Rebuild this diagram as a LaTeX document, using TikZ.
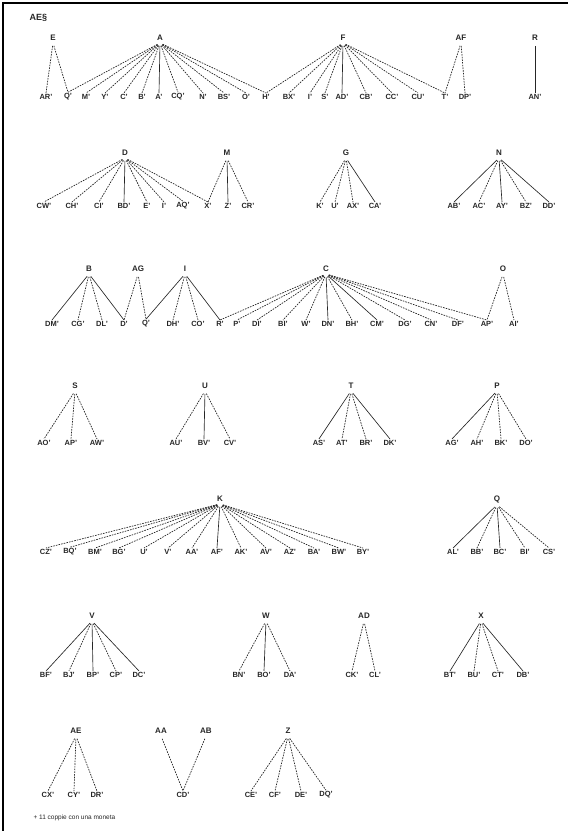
\documentclass[tikz,border=0pt]{standalone}
\usepackage{fontspec}
\setmainfont{Liberation Sans}
\newcommand\fanout[3]{\foreach \i/\s in {#3} {\draw[\s] (#1.south) -- (#2\i.north);}}
\begin{document}
\begin{tikzpicture}[x=1pt,y=-1pt,
  lbl/.style={font=\fontsize{7.5}{9}\selectfont\bfseries, inner sep=1.2pt, text=black!85},
  par/.style={font=\fontsize{8}{9}\selectfont\bfseries, inner sep=2pt, text=black!85},
  dashl/.style={draw=black!85, line width=0.7pt, dash pattern=on 1.6pt off 1.1pt, shorten <=3pt},
  solidl/.style={draw=black!85, line width=0.65pt, shorten <=3pt}]
\useasboundingbox (0,0) rectangle (568,831);
\draw[line width=1.2pt] (3,831) -- (3,3) -- (568,3);
\node[anchor=west, font=\fontsize{9}{10}\selectfont\bfseries, text=black!85] (logo) at (26,18) {AE§};

% ---------- row 1 ----------
\foreach \x/\t [count=\i] in {46/AR',68/Q',86/M',105/Y',124/C',142/B',159/A',178/CQ',203/N',224/BS',246/O',266/H',289/BX',310/I',325/S',342/AD',366/CB',392/CC',418/CU',445/T',465/DP',535/AN'}
  \node[lbl] (r1c\i) at (\x,97) {\t};
\node[par] (pE) at (53,38) {E};
\node[par] (pA) at (160,38) {A};
\node[par] (pF) at (343,38) {F};
\node[par] (pAF) at (461,38) {AF};
\node[par] (pR) at (535,38) {R};
\fanout{pE}{r1c}{1/dashl,2/dashl}
\fanout{pA}{r1c}{2/dashl,3/dashl,4/dashl,5/dashl,6/dashl,7/solidl,8/dashl,9/dashl,10/dashl,11/dashl,12/dashl}
\fanout{pF}{r1c}{12/dashl,13/dashl,14/dashl,15/dashl,16/solidl,17/dashl,18/dashl,19/dashl,20/dashl}
\fanout{pAF}{r1c}{20/dashl,21/dashl}
\fanout{pR}{r1c}{22/solidl}

% ---------- row 2 ----------
\foreach \x/\t [count=\i] in {44/CW',72/CH',99/CI',124/BD',147/E',164/I',183/AQ',208/X',228/Z',248/CR',320/K',335/U',353/AX',375/CA',454/AB',479/AC',502/AY',526/BZ',549/DD'}
  \node[lbl] (r2c\i) at (\x,206) {\t};
\node[par] (pD) at (125,153) {D};
\node[par] (pM) at (227,153) {M};
\node[par] (pG) at (346,153) {G};
\node[par] (pN) at (499,153) {N};
\fanout{pD}{r2c}{1/dashl,2/dashl,3/dashl,4/solidl,5/dashl,6/dashl,7/dashl,8/dashl}
\fanout{pM}{r2c}{8/dashl,9/solidl,10/dashl}
\fanout{pG}{r2c}{11/dashl,12/dashl,13/dashl,14/solidl}
\fanout{pN}{r2c}{15/solidl,16/dashl,17/solidl,18/dashl,19/solidl}

% ---------- row 3 ----------
\foreach \x/\t [count=\i] in {52/DM',78/CG',102/DL',124/D',146/Q',173/DH',198/CO',220/R',237/P',257/DI',283/BI',306/W',328/DN',352/BH',377/CM',405/DG',431/CN',458/DF',487/AP',514/AI'}
  \node[lbl] (r3c\i) at (\x,324) {\t};
\node[par] (pB) at (89,269) {B};
\node[par] (pAG) at (138,269) {AG};
\node[par] (pI) at (185,269) {I};
\node[par] (pC) at (326,269) {C};
\node[par] (pO) at (503,269) {O};
\fanout{pB}{r3c}{1/solidl,2/dashl,3/dashl,4/solidl}
\fanout{pAG}{r3c}{4/dashl,5/dashl}
\fanout{pI}{r3c}{5/solidl,6/dashl,7/dashl,8/solidl}
\fanout{pC}{r3c}{8/dashl,9/dashl,10/dashl,11/dashl,12/dashl,13/solidl,14/dashl,15/solidl,16/dashl,17/dashl,18/dashl,19/dashl}
\fanout{pO}{r3c}{19/dashl,20/dashl}

% ---------- row 4 ----------
\foreach \x/\t [count=\i] in {44/AO',71/AP',97/AW',176/AU',204/BV',230/CV',319/AS',342/AT',366/BR',390/DK',452/AG',477/AH',501/BK',526/DO'}
  \node[lbl] (r4c\i) at (\x,443) {\t};
\node[par] (pS) at (75,386) {S};
\node[par] (pU) at (205,386) {U};
\node[par] (pT) at (351,386) {T};
\node[par] (pP) at (497,386) {P};
\fanout{pS}{r4c}{1/dashl,2/dashl,3/dashl}
\fanout{pU}{r4c}{4/dashl,5/solidl,6/dashl}
\fanout{pT}{r4c}{7/solidl,8/dashl,9/dashl,10/solidl}
\fanout{pP}{r4c}{11/solidl,12/dashl,13/dashl,14/dashl}

% ---------- row 5 ----------
\foreach \x/\t [count=\i] in {46/CZ',70/BQ',95/BM',119/BG',144/U',168/V',192/AA',217/AF',241/AK',266/AV',290/AZ',314/BA',339/BW',363/BY',453/AL',477/BB',500/BC',525/BI',549/CS'}
  \node[lbl] (r5c\i) at (\x,552) {\t};
\node[par] (pK) at (220,499) {K};
\node[par] (pQ) at (497,499) {Q};
\fanout{pK}{r5c}{1/dashl,2/dashl,3/dashl,4/dashl,5/dashl,6/dashl,7/dashl,8/solidl,9/dashl,10/dashl,11/dashl,12/dashl,13/dashl,14/dashl}
\fanout{pQ}{r5c}{15/solidl,16/dashl,17/solidl,18/dashl,19/dashl}

% ---------- row 6 ----------
\foreach \x/\t [count=\i] in {46/BF',69/BJ',93/BP',116/CP',139/DC',239/BN',264/BO',290/DA',352/CK',375/CL',450/BT',474/BU',498/CT',523/DB'}
  \node[lbl] (r6c\i) at (\x,675) {\t};
\node[par] (pV) at (92,616) {V};
\node[par] (pW) at (266,616) {W};
\node[par] (pAD) at (364,616) {AD};
\node[par] (pX) at (481,616) {X};
\fanout{pV}{r6c}{1/solidl,2/dashl,3/solidl,4/dashl,5/solidl}
\fanout{pW}{r6c}{6/dashl,7/solidl,8/dashl}
\fanout{pAD}{r6c}{9/dashl,10/dashl}
\fanout{pX}{r6c}{11/solidl,12/dashl,13/dashl,14/solidl}

% ---------- row 7 ----------
\foreach \x/\t [count=\i] in {48/CX',74/CY',97/DR',183/CD',251/CE',275/CF',301/DE',326/DQ'}
  \node[lbl] (r7c\i) at (\x,795) {\t};
\node[par] (pAE) at (76,731) {AE};
\node[par] (pAA) at (161,731) {AA};
\node[par] (pAB) at (206,731) {AB};
\node[par] (pZ) at (288,731) {Z};
\fanout{pAE}{r7c}{1/dashl,2/dashl,3/dashl}
\fanout{pAA}{r7c}{4/dashl}
\fanout{pAB}{r7c}{4/dashl}
\fanout{pZ}{r7c}{5/dashl,6/dashl,7/dashl,8/dashl}

\node[anchor=west, font=\fontsize{6.5}{7}\selectfont, text=black!85] (note) at (30,818) {+ 11 coppie con una moneta};
\end{tikzpicture}
\end{document}
